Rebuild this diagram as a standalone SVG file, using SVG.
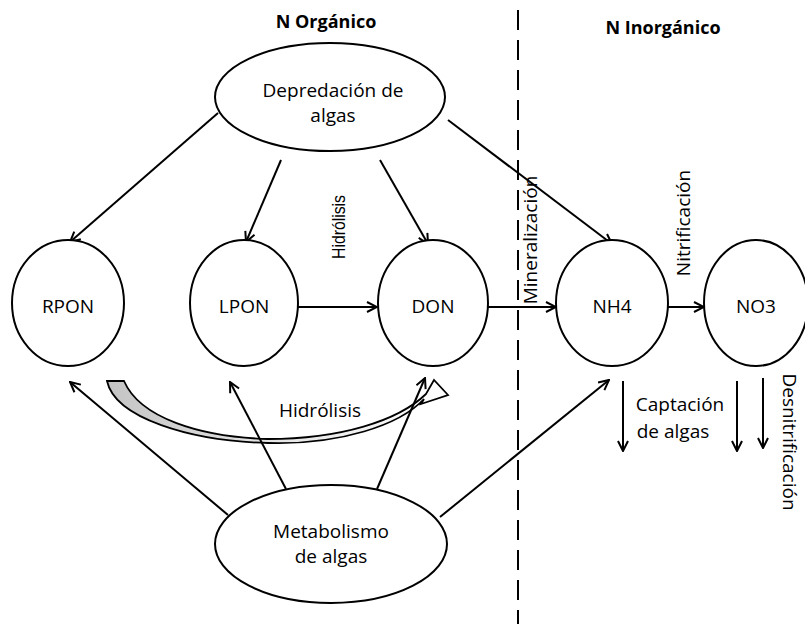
<svg xmlns="http://www.w3.org/2000/svg" width="805" height="624" viewBox="0 0 805 624">
  <defs>
    <marker id="ah" viewBox="0 0 12 12" refX="11" refY="6" markerWidth="12" markerHeight="12" markerUnits="userSpaceOnUse" orient="auto">
      <path d="M1,1 L11,6 L1,11" fill="none" stroke="#000" stroke-width="2"/>
    </marker>
    <linearGradient id="fade" x1="108" y1="0" x2="450" y2="0" gradientUnits="userSpaceOnUse">
      <stop offset="0" stop-color="#c4c4c4"/>
      <stop offset="0.5" stop-color="#e6e6e6"/>
      <stop offset="1" stop-color="#ffffff"/>
    </linearGradient>
    <style>
      .node { fill: #fff; stroke: #000; stroke-width: 2; }
      .lbl { font-family: "Open Sans", "Liberation Sans", sans-serif; font-size: 19px; fill: #000; text-anchor: middle; }
      .vlbl { font-family: "Liberation Sans", Arial, sans-serif; font-size: 19px; fill: #000; text-anchor: middle; }
      .hdr { font-family: "Open Sans", "Liberation Sans", sans-serif; font-size: 18px; font-weight: bold; fill: #000; text-anchor: middle; }
      .edge { fill: none; stroke: #000; stroke-width: 2; marker-end: url(#ah); }
      .sep { fill: none; stroke: #000; stroke-width: 2; stroke-dasharray: 20 10; }
    </style>
  </defs>

  <rect width="805" height="624" fill="#fff"/>

  <!-- section headers and divider -->
  <text class="hdr" x="326" y="28">N Orgánico</text>
  <text class="hdr" x="663" y="34">N Inorgánico</text>
  <line class="sep" x1="518" y1="10" x2="518" y2="624"/>

  <!-- hydrolysis curved block arrow -->
  <path d="M107,381 C115,418 190,441 268,443 C340,445 400,425 424,399 L421,404 L448,395 L434,380 L426,394 C398,421 340,439 268,439 C200,437 140,418 124,381 Z"
        fill="url(#fade)" stroke="#000" stroke-width="1.8" stroke-linejoin="miter"/>

  <!-- connectors -->
  <g id="connectors">
    <line class="edge" x1="218" y1="113" x2="70" y2="242"/>
    <line class="edge" x1="281" y1="160" x2="246" y2="242"/>
    <line class="edge" x1="380" y1="160" x2="428" y2="244"/>
    <line class="edge" x1="448" y1="120" x2="612" y2="244"/>
    <line class="edge" x1="298" y1="307" x2="377" y2="307"/>
    <line class="edge" x1="488" y1="307" x2="556" y2="307"/>
    <line class="edge" x1="668" y1="307" x2="704" y2="307"/>
    <line class="edge" x1="228" y1="515" x2="70" y2="382"/>
    <line class="edge" x1="286" y1="489" x2="230" y2="382"/>
    <line class="edge" x1="377" y1="489" x2="425" y2="378"/>
    <line class="edge" x1="440" y1="517" x2="609" y2="380"/>
    <line class="edge" x1="623" y1="381" x2="623" y2="451"/>
    <line class="edge" x1="737" y1="381" x2="737" y2="451"/>
    <line class="edge" x1="763" y1="378" x2="763" y2="448"/>
  </g>

  <!-- connector labels -->
  <text class="vlbl" transform="translate(345,227) rotate(-90)" textLength="64" lengthAdjust="spacingAndGlyphs">Hidrólisis</text>
  <text class="lbl" x="320" y="417">Hidrólisis</text>
  <text class="lbl" transform="translate(537,240) rotate(-90)">Mineralización</text>
  <text class="lbl" transform="translate(690,223) rotate(-90)">Nitrificación</text>
  <text class="lbl" transform="translate(783,442) rotate(90)">Desnitrificación</text>
  <text class="lbl" x="680" y="411">Captación</text>
  <text class="lbl" x="673" y="438">de algas</text>

  <!-- nodes -->
  <g id="depredacion">
    <ellipse class="node" cx="330" cy="97" rx="115" ry="54"/>
    <text class="lbl" x="333" y="97">Depredación de</text>
    <text class="lbl" x="333" y="122">algas</text>
  </g>
  <g id="rpon">
    <ellipse class="node" cx="68" cy="303" rx="56" ry="63"/>
    <text class="lbl" x="68" y="313">RPON</text>
  </g>
  <g id="lpon">
    <ellipse class="node" cx="244" cy="303" rx="54" ry="63"/>
    <text class="lbl" x="244" y="313">LPON</text>
  </g>
  <g id="don">
    <ellipse class="node" cx="433" cy="303" rx="55" ry="63"/>
    <text class="lbl" x="433" y="313">DON</text>
  </g>
  <g id="nh4">
    <ellipse class="node" cx="612" cy="303" rx="56" ry="63"/>
    <text class="lbl" x="612" y="313">NH4</text>
  </g>
  <g id="no3">
    <ellipse class="node" cx="756" cy="303" rx="52" ry="63"/>
    <text class="lbl" x="756" y="313">NO3</text>
  </g>
  <g id="metabolismo">
    <ellipse class="node" cx="331" cy="544" rx="116" ry="59"/>
    <text class="lbl" x="331" y="538">Metabolismo</text>
    <text class="lbl" x="331" y="563">de algas</text>
  </g>
</svg>
